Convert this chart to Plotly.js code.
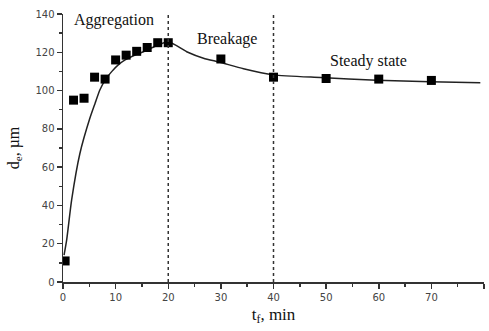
<!DOCTYPE html>
<html>
<head>
<meta charset="utf-8">
<script src="https://cdn.plot.ly/plotly-3.0.1.min.js"></script>
<style>html,body{margin:0;padding:0;background:#fff;}#chart{width:489px;height:331px;}</style>
</head>
<body>
<div id="chart"></div>
<script>
// Measured points
const timeMin = [0.4, 2, 4, 6, 8, 10, 12, 14, 16, 18, 20, 30, 40, 50, 60, 70];
const diameter = [11, 95, 96, 107, 106, 116, 118.5, 120.5, 122.5, 125, 125, 116.5, 107, 106.3, 106, 105.3];

// Model curve
const curveX = [0.2, 0.7, 1.65, 3.2, 5.1, 6.1, 7.0, 8.0, 9.25, 10.5, 11.8, 13.7, 15.3, 17, 20, 23.5, 26.7, 29.8, 34.3, 40, 48.9, 59.6, 69.8, 79.3];
const curveY = [14, 22, 43, 67, 85.5, 93.4, 100.3, 105.5, 109.9, 113.4, 116, 118.6, 120.3, 122.5, 125.5, 120.3, 116.9, 114.8, 111.4, 108.2, 106.8, 105.4, 104.6, 104.1];

// Phase boundaries and labels
const phaseBounds = [20, 40];
const phaseLabels = ["Aggregation", "Breakage", "Steady state"];
const phaseLabelX = [9.7, 31.2, 58];
const phaseLabelY = [137, 127, 115.5];

const traces = [
  {x: curveX, y: curveY, mode: 'lines', line: {color: '#222', width: 1.5, shape: 'spline', smoothing: 0.6}, hoverinfo: 'skip'},
  {x: timeMin, y: diameter, mode: 'markers', marker: {symbol: 'square', size: 9, color: '#000'}}
];

const shapes = phaseBounds.map(b => ({
  type: 'line', xref: 'x', yref: 'y', x0: b, x1: b, y0: 0, y1: 140,
  line: {color: '#333', width: 1.5, dash: 'dot'}
}));

const serif = 'Liberation Serif, Times New Roman, serif';

const annotations = phaseLabels.map((t, i) => ({
  x: phaseLabelX[i], y: phaseLabelY[i], xref: 'x', yref: 'y', text: t, showarrow: false,
  font: {family: serif, size: 16, color: '#111'}
}));

const tickFont = {family: 'DejaVu Sans, Verdana, sans-serif', size: 10, color: '#444'};

const layout = {
  width: 489, height: 331,
  margin: {l: 63, r: 5, t: 14, b: 49},
  showlegend: false,
  paper_bgcolor: '#fff', plot_bgcolor: '#fff',
  xaxis: {
    range: [0, 80], dtick: 10, showgrid: false, zeroline: false,
    showline: true, linecolor: '#333', linewidth: 1.5,
    ticks: 'outside', ticklen: 5, tickwidth: 1.5, tickcolor: '#333',
    minor: {dtick: 5, ticks: 'outside', ticklen: 3, tickwidth: 1.5, tickcolor: '#333', showgrid: false},
    tickfont: tickFont,
    title: {text: 't<sub>f</sub>, min', font: {family: serif, size: 17, color: '#111'}, standoff: 6}
  },
  yaxis: {
    range: [0, 140], dtick: 20, showgrid: false, zeroline: false,
    showline: true, linecolor: '#333', linewidth: 1.5,
    ticks: 'outside', ticklen: 5, tickwidth: 1.5, tickcolor: '#333',
    minor: {dtick: 10, ticks: 'outside', ticklen: 3, tickwidth: 1.5, tickcolor: '#333', showgrid: false},
    tickfont: tickFont,
    title: {text: 'd<sub>e</sub>, µm', font: {family: serif, size: 16, color: '#111'}, standoff: 12}
  },
  shapes: shapes,
  annotations: annotations
};

Plotly.newPlot('chart', traces, layout, {displayModeBar: false, staticPlot: true});
</script>
</body>
</html>
